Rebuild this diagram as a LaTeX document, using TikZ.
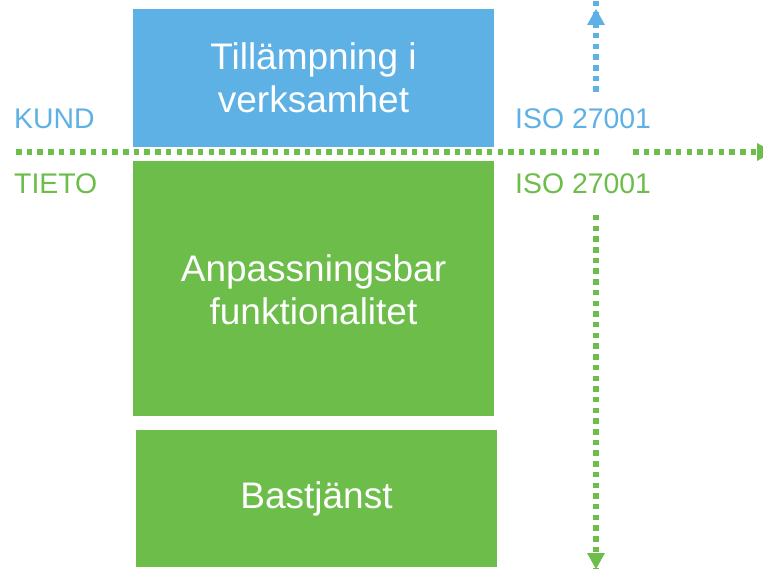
\documentclass[tikz,border=0pt]{standalone}
\usepackage{fontspec}
\setmainfont{Liberation Sans}
\definecolor{kblue}{HTML}{5EB1E5}
\definecolor{tgreen}{HTML}{6CBD4A}
\tikzset{
  box/.style={fill=#1, draw=none, text=white, align=center, font=\fontsize{37}{43}\selectfont, inner sep=0pt},
  lbl/.style={text=#1, anchor=base west, inner sep=0pt, font=\fontsize{28.4}{34}\selectfont},
  dotline/.style={draw=#1, line width=5.5pt, dash pattern=on 5.5pt off 5.2pt}
}
\begin{document}
\begin{tikzpicture}[x=1pt,y=-1pt]
\useasboundingbox (0,0) rectangle (763,569);
% boxes
\path[fill=kblue] (133,9) rectangle (494,147);
\node[box=kblue] (tillamp) at (313.5,78) {Tillämpning i\\verksamhet};
\path[fill=tgreen] (133,161) rectangle (494,416);
\node[box=tgreen] (anpass) at (313.5,290) {Anpassningsbar\\funktionalitet};
\path[fill=tgreen] (136,430) rectangle (497,567);
\node[box=tgreen] (bast) at (316.5,499) {Bastjänst};
% labels
\node[lbl=kblue] (kund) at (14,129) {KUND};
\node[lbl=tgreen] (tieto) at (14,194) {TIETO};
\node[lbl=kblue] (isok) at (515,129) {ISO 27001};
\node[lbl=tgreen] (isot) at (515,194) {ISO 27001};
% coordinates
\coordinate (hl0) at (16,152);
\coordinate (hl1) at (599,152);
\coordinate (hr0) at (633,152);
\coordinate (hr1) at (773,152);
\coordinate (vb0) at (596,92);
\coordinate (vb1) at (596,9);
\coordinate (vg0) at (596,215);
\coordinate (vg1) at (596,569);
% dotted lines
\draw[dotline=tgreen] (hl0) -- (hl1);
\draw[dotline=tgreen] (hr0) -- ([xshift=-15pt]hr1);
\fill[tgreen] (hr1) -- ++(-16,-9) -- ++(0,18) -- cycle;
\draw[dotline=kblue] (vb0) -- ([yshift=16pt]vb1);
\fill[kblue] (vb1) -- ++(-9,16) -- ++(18,0) -- cycle;
\draw[dotline=tgreen] (vg0) -- ([yshift=-14pt]vg1);
\fill[tgreen] (vg1) -- ++(-9,-16) -- ++(18,0) -- cycle;
\end{tikzpicture}
\end{document}
